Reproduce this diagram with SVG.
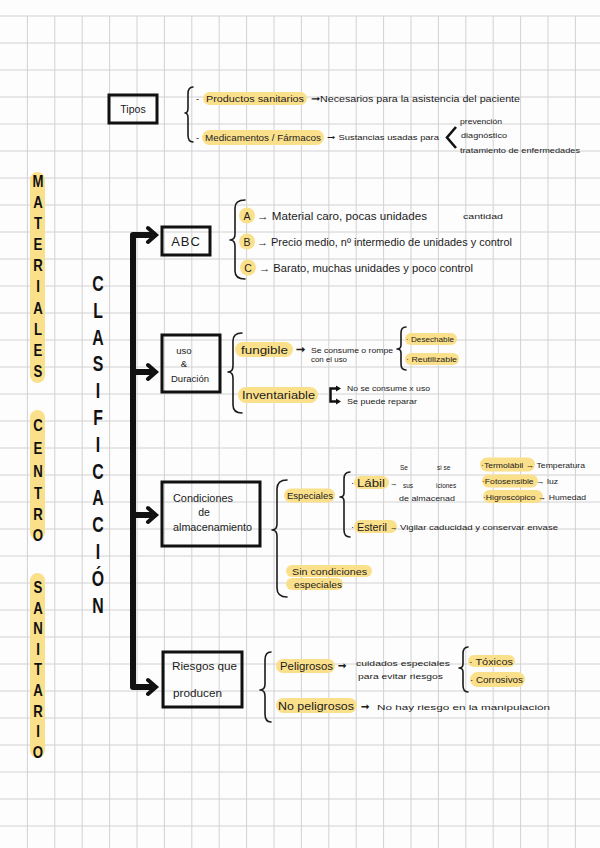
<svg xmlns="http://www.w3.org/2000/svg" width="600" height="848" viewBox="0 0 600 848">
<defs>
<style>
.t{font-family:"Liberation Sans",Arial,sans-serif;fill:#1b1b1b}
.s{font-size:7.5px}
.m{font-size:9.5px}
.l{font-size:10.5px}
.ttl{font-family:"Liberation Sans",Arial,sans-serif;font-weight:bold;fill:#111;text-anchor:middle}
.hl{fill:#fbe08c}
.box{fill:none;stroke:#111;stroke-width:3}
.br{fill:none;stroke:#1b1b1b;stroke-width:1.6;stroke-linecap:round;stroke-linejoin:round}
.cn{fill:none;stroke:#111;stroke-width:6;stroke-linecap:round;stroke-linejoin:round}
.ah{fill:none;stroke:#111;stroke-width:4;stroke-linecap:round;stroke-linejoin:miter}
.grid{stroke:#d2d2d2;stroke-width:1;fill:none}
</style>
</defs>
<rect width="600" height="848" fill="#fdfdfd"/>
<path class="grid" d="M27.4 16V848M54.8 16V848M82.2 16V848M109.6 16V848M137 16V848M164.4 16V848M191.8 16V848M219.2 16V848M246.6 16V848M274 16V848M301.4 16V848M328.8 16V848M356.2 16V848M383.6 16V848M411 16V848M438.4 16V848M465.8 16V848M493.2 16V848M520.6 16V848M548 16V848M575.4 16V848M0 16H600M0 43H600M0 70H600M0 97H600M0 124H600M0 151H600M0 178H600M0 205H600M0 232H600M0 259H600M0 286H600M0 313H600M0 340H600M0 367H600M0 394H600M0 421H600M0 448H600M0 475H600M0 502H600M0 529H600M0 556H600M0 583H600M0 610H600M0 637H600M0 664H600M0 691H600M0 718H600M0 745H600M0 772H600M0 799H600M0 826H600"/>

<g id="titulo">
<rect class="hl" x="30" y="172" width="15" height="211" rx="7.5"/>
<rect class="hl" x="30" y="410" width="15" height="130" rx="7.5"/>
<rect class="hl" x="30" y="573" width="15" height="185" rx="7.5"/>
<g transform="translate(38,0) scale(0.8,1)" font-size="16.5">
<text class="ttl" x="0" y="187">M</text><text class="ttl" x="0" y="208">A</text><text class="ttl" x="0" y="229">T</text><text class="ttl" x="0" y="250">E</text><text class="ttl" x="0" y="271">R</text><text class="ttl" x="0" y="292">I</text><text class="ttl" x="0" y="314">A</text><text class="ttl" x="0" y="335">L</text><text class="ttl" x="0" y="356">E</text><text class="ttl" x="0" y="377">S</text>
<text class="ttl" x="0" y="431">C</text><text class="ttl" x="0" y="454">E</text><text class="ttl" x="0" y="477">N</text><text class="ttl" x="0" y="499">T</text><text class="ttl" x="0" y="520">R</text><text class="ttl" x="0" y="541">O</text>
<text class="ttl" x="0" y="593">S</text><text class="ttl" x="0" y="614">A</text><text class="ttl" x="0" y="634">N</text><text class="ttl" x="0" y="655">I</text><text class="ttl" x="0" y="675">T</text><text class="ttl" x="0" y="696">A</text><text class="ttl" x="0" y="717">R</text><text class="ttl" x="0" y="737">I</text><text class="ttl" x="0" y="758">O</text>
</g>
</g>

<g id="clasificacion" transform="translate(98,0) scale(0.72,1)" font-size="22">
<text class="ttl" x="0" y="291">C</text><text class="ttl" x="0" y="318">L</text><text class="ttl" x="0" y="345">A</text><text class="ttl" x="0" y="371">S</text><text class="ttl" x="0" y="398">I</text><text class="ttl" x="0" y="425">F</text><text class="ttl" x="0" y="452">I</text><text class="ttl" x="0" y="479">C</text><text class="ttl" x="0" y="505">A</text><text class="ttl" x="0" y="532">C</text><text class="ttl" x="0" y="559">I</text><text class="ttl" x="0" y="586">Ó</text><text class="ttl" x="0" y="613">N</text>
</g>

<g id="connectors">
<path class="cn" d="M150 235H133V687H150M133 372H150M133 515H150"/>
<path class="ah" d="M148 228L156 235L148 242M148 365L156 372L148 379M148 508L156 515L148 522M148 680L156 687L148 694"/>
</g>

<g id="tipos">
<rect class="box" x="109" y="95" width="48" height="28"/>
<text class="t l" x="133" y="113" text-anchor="middle">Tipos</text>
<path class="br" d="M193 87Q188 87 188 94L188 108Q188 113 185 113Q188 113 188 118L188 135Q188 142 193 142"/>
<rect class="hl" x="203" y="92" width="104" height="13" rx="6.5"/>
<text class="t m" x="196" y="102">-</text>
<text class="t m" x="206" y="102" textLength="98" lengthAdjust="spacingAndGlyphs">Productos  sanitarios</text>
<text class="t m" x="311" y="102" textLength="209" lengthAdjust="spacingAndGlyphs">➞Necesarios para la asistencia del paciente</text>
<rect class="hl" x="202" y="130" width="122" height="15" rx="7.5"/>
<text class="t m" x="196" y="141">-</text>
<text class="t m" x="205" y="141" textLength="116" lengthAdjust="spacingAndGlyphs">Medicamentos / Fármacos</text>
<text class="t s" x="327" y="140" textLength="112" lengthAdjust="spacingAndGlyphs">➞ Sustancias usadas para</text>
<path d="M456 127L447 137.5L456 148" fill="none" stroke="#111" stroke-width="2.6" stroke-linejoin="miter"/>
<text class="t s" x="460" y="124" textLength="42" lengthAdjust="spacingAndGlyphs">prevención</text>
<text class="t s" x="461" y="138" textLength="46" lengthAdjust="spacingAndGlyphs">diagnóstico</text>
<text class="t s" x="460" y="153" textLength="120" lengthAdjust="spacingAndGlyphs">tratamiento de enfermedades</text>
</g>

<g id="abc">
<rect class="box" x="162" y="227" width="48" height="28"/>
<text class="t" x="186" y="246" font-size="13" text-anchor="middle" letter-spacing="1">ABC</text>
<path class="br" d="M245 200Q235 200 235 208L235 234Q235 240 230 240Q235 240 235 246L235 271Q235 279 245 279"/>
<circle class="hl" cx="247" cy="215.5" r="8"/>
<circle class="hl" cx="247" cy="241.5" r="8"/>
<circle class="hl" cx="248" cy="267.5" r="8"/>
<text class="t l" x="247" y="219.5" text-anchor="middle">A</text>
<text class="t l" x="247" y="245.5" text-anchor="middle">B</text>
<text class="t l" x="248" y="271.5" text-anchor="middle">C</text>
<text class="t l" x="257" y="219.5" textLength="170" lengthAdjust="spacingAndGlyphs">→ Material caro, pocas unidades</text>
<text class="t" x="463" y="219" font-size="6.5" textLength="40" lengthAdjust="spacingAndGlyphs">cantidad</text>
<text class="t l" x="257" y="245.5" textLength="255" lengthAdjust="spacingAndGlyphs">→ Precio medio, nº intermedio de unidades y control</text>
<text class="t l" x="259" y="271.5" textLength="214" lengthAdjust="spacingAndGlyphs">→ Barato, muchas unidades y poco control</text>
</g>

<g id="uso">
<rect class="box" x="162" y="335" width="58" height="57"/>
<text class="t m" x="184" y="354" text-anchor="middle">uso</text>
<text class="t m" x="184" y="367" text-anchor="middle">&amp;</text>
<text class="t m" x="190" y="382" text-anchor="middle">Duración</text>
<path class="br" d="M242 333Q233 333 233 341L233 366Q233 372 228 372Q233 372 233 378L233 405Q233 413 242 413"/>
<rect class="hl" x="235" y="342" width="58" height="15" rx="7.5"/>
<text class="t" x="241" y="353.5" font-size="11.5" textLength="47" lengthAdjust="spacingAndGlyphs">fungible</text>
<text class="t" x="296" y="353" font-size="11" font-weight="bold">➞</text>
<text class="t s" x="311" y="352.5" textLength="82" lengthAdjust="spacingAndGlyphs">Se consume o rompe</text>
<text class="t s" x="311" y="361.5" textLength="36" lengthAdjust="spacingAndGlyphs">con el uso</text>
<path class="br" d="M406 327Q401 327 401 333L401 345Q401 349 397 349Q401 349 401 353L401 364Q401 370 406 370"/>
<rect class="hl" x="405" y="333" width="52" height="12" rx="6"/>
<rect class="hl" x="405" y="353" width="54" height="12" rx="6"/>
<text class="t s" x="406" y="342" textLength="48" lengthAdjust="spacingAndGlyphs">· Desechable</text>
<text class="t s" x="406" y="362" textLength="51" lengthAdjust="spacingAndGlyphs">· Reutilizable</text>
<rect class="hl" x="238" y="387" width="80" height="16" rx="8"/>
<text class="t" x="242" y="399" font-size="11.5" textLength="73" lengthAdjust="spacingAndGlyphs">Inventariable</text>
<path d="M337 388.5H330.5V401.5H337" fill="none" stroke="#111" stroke-width="2.5"/>
<path d="M336 385.5L341 388.5L336 391.5ZM336 398.5L341 401.5L336 404.5Z" fill="#111"/>
<text class="t s" x="347" y="391" textLength="83" lengthAdjust="spacingAndGlyphs">No se consume x uso</text>
<text class="t s" x="347" y="404" textLength="70" lengthAdjust="spacingAndGlyphs">Se puede reparar</text>
</g>

<g id="condiciones">
<rect class="box" x="162" y="482" width="98" height="64"/>
<text class="t l" x="173" y="502" textLength="60" lengthAdjust="spacingAndGlyphs">Condiciones</text>
<text class="t l" x="204" y="515.5" text-anchor="middle">de</text>
<text class="t l" x="173" y="530.5" textLength="79" lengthAdjust="spacingAndGlyphs">almacenamiento</text>
<path class="br" d="M287 480Q277 480 277 489L277 524Q277 530 272 530Q277 530 277 536L277 588Q277 597 287 597"/>
<rect class="hl" x="284" y="488.5" width="51" height="14" rx="7"/>
<text class="t m" x="287" y="499" textLength="46" lengthAdjust="spacingAndGlyphs">Especiales</text>
<path class="br" d="M350 472Q344 472 344 479L344 493Q344 497 340 497Q344 497 344 501L344 530Q344 537 350 537"/>
<text class="t m" x="351" y="486">·</text>
<rect class="hl" x="354" y="476" width="35" height="13" rx="6.5"/>
<text class="t" x="357" y="487" font-size="11" textLength="28" lengthAdjust="spacingAndGlyphs">Lábil</text>
<text class="t s" x="390" y="486">→</text>
<text class="t" x="400" y="469.5" font-size="6.5">Se</text>
<text class="t" x="437" y="469.5" font-size="6.5">si se</text>
<text class="t" x="403" y="487.5" font-size="6.5">sus</text>
<text class="t" x="436" y="487.5" font-size="6.5">iciones</text>
<text class="t" x="399" y="500.5" font-size="6.5" textLength="56" lengthAdjust="spacingAndGlyphs">de almacenad</text>
<rect class="hl" x="480" y="457.5" width="55" height="14" rx="7"/>
<rect class="hl" x="482" y="474.5" width="56" height="13" rx="6.5"/>
<rect class="hl" x="483" y="490" width="60" height="13" rx="6.5"/>
<text class="t s" x="481" y="467.5" textLength="104" lengthAdjust="spacingAndGlyphs">·Termolábil → Temperatura</text>
<text class="t s" x="482" y="483.5" textLength="76" lengthAdjust="spacingAndGlyphs">·Fotosensible → luz</text>
<text class="t s" x="483" y="499.5" textLength="103" lengthAdjust="spacingAndGlyphs">·Higroscópico  → Humedad</text>
<text class="t m" x="351" y="530">·</text>
<rect class="hl" x="354" y="520" width="43" height="13" rx="6.5"/>
<text class="t" x="357" y="531" font-size="11" textLength="30" lengthAdjust="spacingAndGlyphs">Esteril</text>
<text class="t s" x="390" y="530">→</text>
<text class="t s" x="400" y="530" textLength="158" lengthAdjust="spacingAndGlyphs">Vigilar caducidad y conservar envase</text>
<rect class="hl" x="286" y="565" width="86" height="12" rx="6"/>
<rect class="hl" x="286" y="578" width="57" height="12" rx="6"/>
<text class="t m" x="292" y="574.5" textLength="75" lengthAdjust="spacingAndGlyphs">Sin condiciones</text>
<text class="t m" x="294" y="587.5" textLength="48" lengthAdjust="spacingAndGlyphs">especiales</text>
</g>

<g id="riesgos">
<rect class="box" x="163" y="652" width="79" height="55"/>
<text class="t l" x="172" y="670" textLength="65" lengthAdjust="spacingAndGlyphs">Riesgos que</text>
<text class="t l" x="173" y="697" textLength="49" lengthAdjust="spacingAndGlyphs">producen</text>
<path class="br" d="M271 652Q265 652 265 660L265 684Q265 690 260 690Q265 690 265 696L265 714Q265 722 271 722"/>
<rect class="hl" x="276" y="659" width="59" height="14" rx="7"/>
<text class="t" x="280" y="670" font-size="11" textLength="53" lengthAdjust="spacingAndGlyphs">Peligrosos</text>
<text class="t" x="338" y="669" font-size="10" font-weight="bold">➞</text>
<text class="t s" x="356" y="666" textLength="94" lengthAdjust="spacingAndGlyphs">cuidados especiales</text>
<text class="t s" x="358" y="679" textLength="85" lengthAdjust="spacingAndGlyphs">para evitar riesgos</text>
<path class="br" d="M468 647Q463 647 463 654L463 664Q463 668 459 668Q463 668 463 672L463 685Q463 692 468 692"/>
<rect class="hl" x="468" y="655" width="47" height="12" rx="6"/>
<rect class="hl" x="470" y="672" width="55" height="15" rx="7.5"/>
<text class="t m" x="469" y="664.5" textLength="44" lengthAdjust="spacingAndGlyphs">· Tóxicos</text>
<text class="t m" x="470" y="682.5" textLength="53" lengthAdjust="spacingAndGlyphs">· Corrosivos</text>
<rect class="hl" x="276" y="698" width="81" height="15" rx="7.5"/>
<text class="t" x="278" y="709.5" font-size="11" textLength="76" lengthAdjust="spacingAndGlyphs">No peligrosos</text>
<text class="t" x="361" y="710" font-size="10" font-weight="bold">➞</text>
<text class="t s" x="377" y="710" textLength="173" lengthAdjust="spacingAndGlyphs">No hay riesgo en la manipulación</text>
</g>
</svg>
